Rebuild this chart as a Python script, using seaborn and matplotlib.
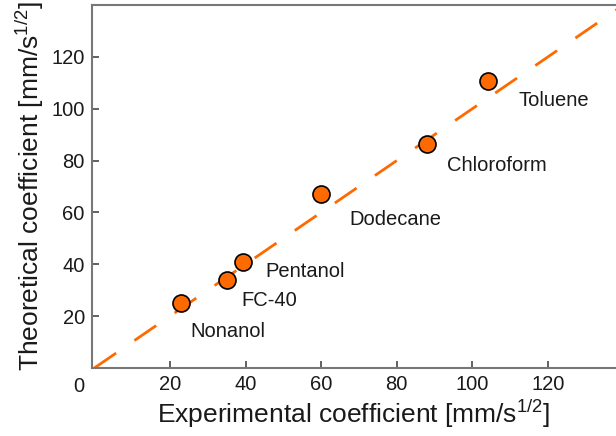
import matplotlib
matplotlib.use("Agg")
import matplotlib.pyplot as plt
import seaborn as sns
import pandas as pd

# Measured vs. predicted coefficients for each liquid
liquids = ["Nonanol", "FC-40", "Pentanol", "Dodecane", "Chloroform", "Toluene"]
experimental = [23.0, 35.0, 39.2, 60.0, 88.0, 104.2]
theoretical = [25.0, 34.0, 41.0, 67.3, 86.4, 110.6]

# Label anchor positions (data units) for each liquid name
label_x = [25.3, 39.0, 45.3, 67.4, 93.2, 112.1]
label_y = [13.9, 26.2, 37.1, 57.1, 78.1, 103.1]

# Parity line y = x
parity = [0, 140]

ticks = [20, 40, 60, 80, 100, 120]

sns.set_theme(style="white")
plt.rcParams.update({
    "font.family": ["Liberation Sans", "DejaVu Sans"],
    "mathtext.fontset": "custom",
    "mathtext.rm": "Liberation Sans",
    "mathtext.default": "regular",
    "xtick.bottom": True,
    "ytick.left": True,
    "xtick.direction": "in",
    "ytick.direction": "in",
    "xtick.major.size": 5,
    "ytick.major.size": 5,
    "xtick.major.width": 1.3,
    "ytick.major.width": 1.3,
    "xtick.color": "#555555",
    "ytick.color": "#555555",
})

df = pd.DataFrame({"liquid": liquids, "exp": experimental, "theo": theoretical})
line_df = pd.DataFrame({"x": parity, "y": parity})

fig = plt.figure(figsize=(6.16, 4.36), dpi=100)
ax = fig.add_axes([91.7 / 616, (436 - 368) / 436, (616 - 91.7) / 616, (368 - 5) / 436])

orange = "#ff6a00"
sns.lineplot(data=line_df, x="x", y="y", ax=ax, color=orange, lw=2.0,
             dashes=[(9.5, 8.0)], style=[0, 0], legend=False)
sns.scatterplot(data=df, x="exp", y="theo", ax=ax, s=150, color=orange,
                edgecolor="black", linewidth=1.2, zorder=3, legend=False)

for name, tx, ty in zip(liquids, label_x, label_y):
    ax.text(tx, ty, name, fontsize=14.5, color="#1a1a1a", ha="left", va="center")

ax.set_xlim(-0.7, 138)
ax.set_ylim(0, 140)
ax.set_xticks(ticks)
ax.set_yticks(ticks)
ax.tick_params(axis="both", which="major", labelsize=14.5, labelcolor="#1a1a1a", pad=5)
# shared origin label
ax.annotate("0", xy=(0, 0), xycoords="data", xytext=(-11, -13), textcoords="offset points",
            fontsize=14.5, color="#1a1a1a", ha="center", va="center", annotation_clip=False)

for side in ["left", "bottom", "top"]:
    ax.spines[side].set_color("#777777")
    ax.spines[side].set_linewidth(1.5)
ax.spines["right"].set_visible(False)

ax.set_xlabel("Experimental coefficient [mm/s$^{1/2}$]", fontsize=19, color="#1a1a1a", labelpad=3)
ax.set_ylabel("Theoretical coefficient [mm/s$^{1/2}$]", fontsize=19, color="#1a1a1a", labelpad=4)

fig.savefig("out.png", dpi=100)
